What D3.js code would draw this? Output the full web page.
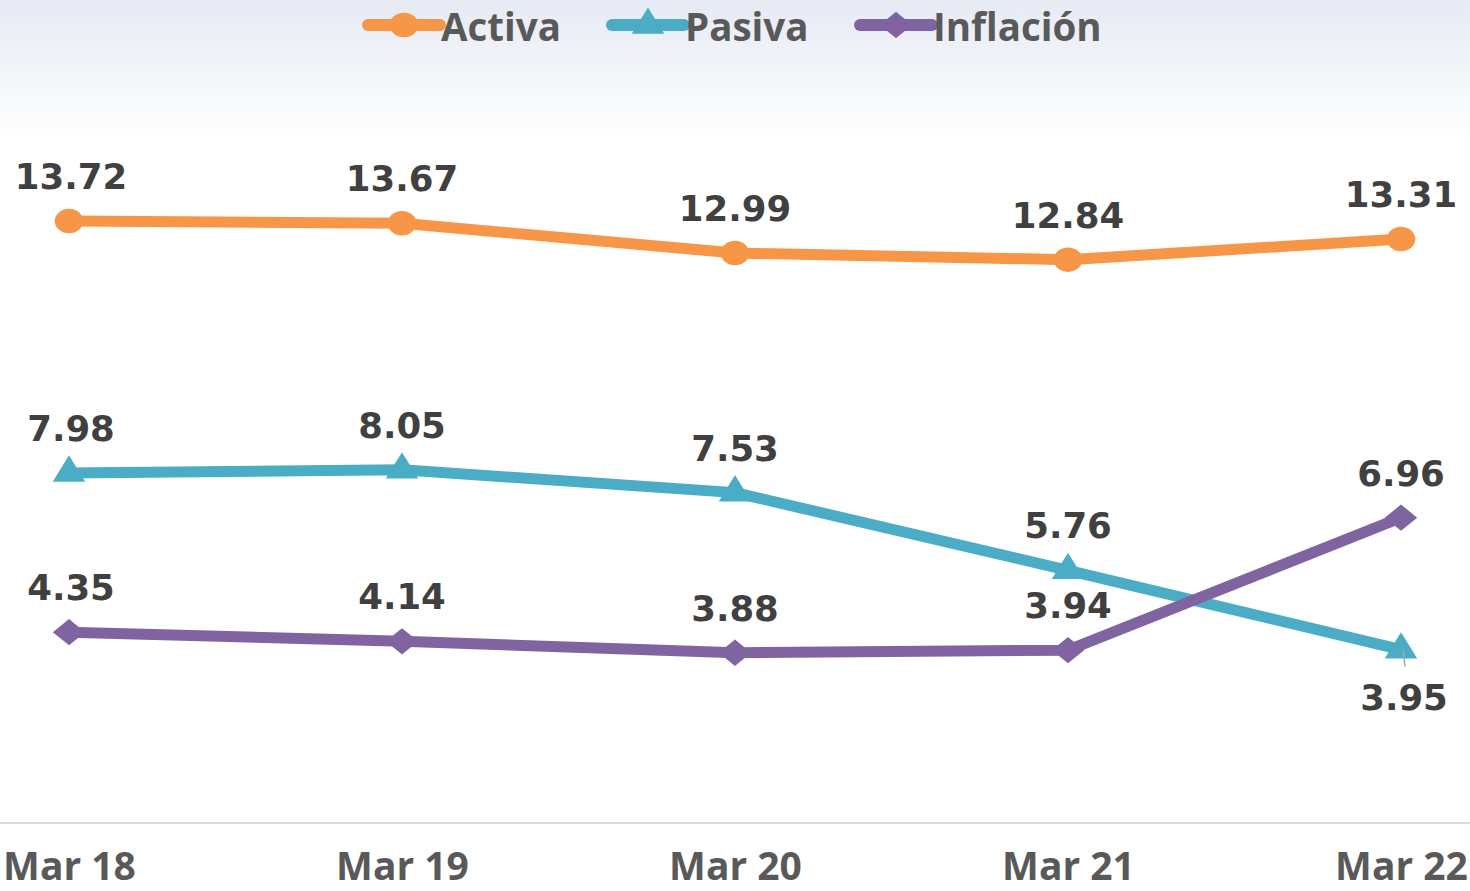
<!DOCTYPE html>
<html>
<head>
<meta charset="utf-8">
<script src="https://cdn.jsdelivr.net/npm/d3@7"></script>
<style>
  html, body { margin: 0; padding: 0; background: #fff; overflow: hidden; }
</style>
</head>
<body>
<script>
'use strict';

// chart data
const months = ["Mar 18", "Mar 19", "Mar 20", "Mar 21", "Mar 22"];
const activa = [13.72, 13.67, 12.99, 12.84, 13.31];
const pasiva = [7.98, 8.05, 7.53, 5.76, 3.95];
const inflacion = [4.35, 4.14, 3.88, 3.94, 6.96];
const seriesNames = ["Activa", "Pasiva", "Inflación"];

(function() {
  const width = 1470, height = 891;

  const svg = d3.select('body')
    .append('svg')
    .attr('width', width)
    .attr('height', height);

  // faded band at the top
  const defs = svg.append('defs');
  const grad = defs.append('linearGradient')
    .attr('id', 'topFade')
    .attr('x1', 0).attr('y1', 0).attr('x2', 0).attr('y2', 1);
  grad.append('stop').attr('offset', '0%').attr('stop-color', '#e6eaf3');
  grad.append('stop').attr('offset', '100%').attr('stop-color', '#ffffff');
  svg.append('rect')
    .attr('x', 0).attr('y', 0)
    .attr('width', width).attr('height', 140)
    .attr('fill', 'url(#topFade)');

  let x = d3.scalePoint().domain(months).range([69, 1401]);
  let y = d3.scaleLinear().domain([0, 16]).range([823, 121]);

  const series = [
    {name: seriesNames[0], values: activa, color: '#F79646', shape: 'circle'},
    {name: seriesNames[1], values: pasiva, color: '#4BACC6', shape: 'triangle'},
    {name: seriesNames[2], values: inflacion, color: '#8064A2', shape: 'diamond'}
  ];

  // marker path + stretch for each shape
  function marker(shape) {
    if (shape == 'circle') return {d: d3.symbol(d3.symbolCircle, 470)(), sx: 1.17};
    if (shape == 'triangle') return {d: d3.symbol(d3.symbolTriangle, 400)(), sx: 1.07};
    return {d: d3.symbol(d3.symbolDiamond, 200)(), sx: 2.13};
  }

  // x axis
  let xAxis = d3.axisBottom(x).tickSize(0).tickPadding(0);
  let gx = svg.append('g')
    .attr('transform', 'translate(0, 823)')
    .call(xAxis);
  gx.select('.domain').remove();
  svg.append('line')
    .attr('x1', 0).attr('x2', width)
    .attr('y1', 823).attr('y2', 823)
    .attr('stroke', '#d9d9d9')
    .attr('stroke-width', 2);
  gx.selectAll('text')
    .attr('y', 57)
    .attr('dy', null)
    .style('font-family', '"Open Sans", sans-serif')
    .style('font-weight', 'bold')
    .style('font-size', '39px')
    .attr('fill', '#595959');

  let line = d3.line()
    .x((d, i) => x(months[i]))
    .y(d => y(d));

  series.forEach(s => {
    svg.append('path')
      .datum(s.values)
      .attr('fill', 'none')
      .attr('stroke', s.color)
      .attr('stroke-width', 11)
      .attr('stroke-linejoin', 'round')
      .attr('d', line);

    let m = marker(s.shape);
    svg.selectAll('.m-' + s.shape)
      .data(s.values)
      .enter()
      .append('path')
        .attr('d', m.d)
        .attr('fill', s.color)
        .attr('transform', (d, i) => 'translate(' + x(months[i]) + ',' + y(d) + ') scale(' + m.sx + ',1)');
  });

  // data labels
  series.forEach(s => {
    s.values.forEach((v, i) => {
      let below = (s.name == 'Pasiva' && i == 4);
      let lx = x(months[i]) + (i == 0 ? 2 : 0) + (below ? 3 : 0);
      let ly = below ? y(v) + 60 : y(v) - 32;
      if (below) {
        svg.append('line')
          .attr('x1', x(months[i]) + 2).attr('x2', x(months[i]) + 4)
          .attr('y1', y(v)).attr('y2', y(v) + 17)
          .attr('stroke', '#a6a6a6')
          .attr('stroke-width', 1.5);
      }
      svg.append('text')
        .attr('x', lx)
        .attr('y', ly)
        .attr('text-anchor', 'middle')
        .style('font-family', '"DejaVu Sans", Verdana, sans-serif')
        .style('font-weight', 'bold')
        .style('font-size', '35.5px')
        .attr('fill', '#404040')
        .text(v.toFixed(2));
    });
  });

  // legend
  const legendX = [368, 612, 860];
  series.forEach((s, i) => {
    let g = svg.append('g').attr('transform', 'translate(' + legendX[i] + ', 25)');
    g.append('line')
      .attr('x1', 0).attr('x2', 72)
      .attr('y1', 0).attr('y2', 0)
      .attr('stroke', s.color)
      .attr('stroke-width', 12)
      .attr('stroke-linecap', 'round');
    let m = marker(s.shape);
    g.append('path')
      .attr('d', m.d)
      .attr('fill', s.color)
      .attr('transform', 'translate(36,0) scale(' + m.sx + ',1)');
    g.append('text')
      .attr('x', 73)
      .attr('y', 16)
      .style('font-family', '"Open Sans", sans-serif')
      .style('font-weight', 'bold')
      .style('font-size', '38.5px')
      .attr('fill', '#595959')
      .text(s.name);
  });
})();
</script>
</body>
</html>
